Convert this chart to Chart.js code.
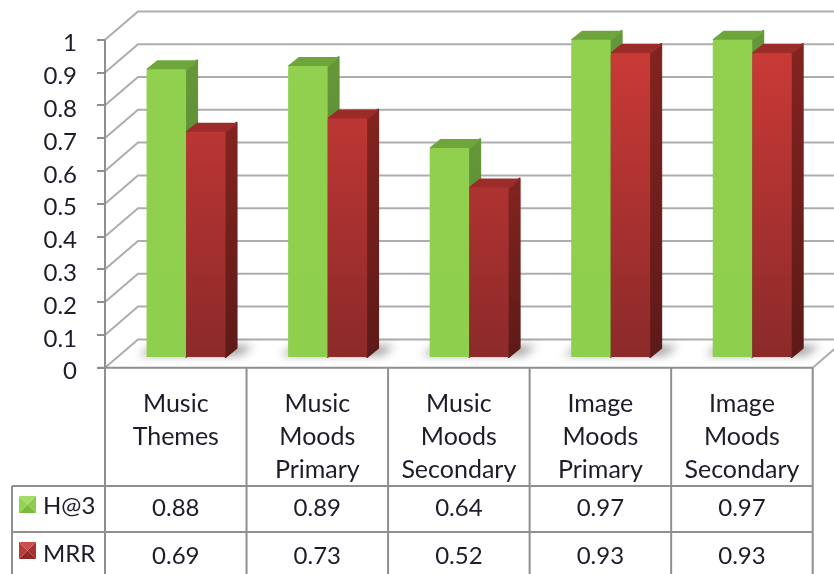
<!DOCTYPE html>
<html>
<head>
<meta charset="utf-8">
<style>
html,body{margin:0;padding:0;background:#fff;overflow:hidden}
canvas{display:block}
</style>
<script src="https://cdn.jsdelivr.net/npm/chart.js@4/dist/chart.umd.min.js"></script>
</head>
<body>
<canvas id="c" width="834" height="574"></canvas>
<script>
// Retrieval scores per task
const categories = [
  ['Music', 'Themes'],
  ['Music', 'Moods', 'Primary'],
  ['Music', 'Moods', 'Secondary'],
  ['Image', 'Moods', 'Primary'],
  ['Image', 'Moods', 'Secondary']
];
const hitsAt3 = [0.88, 0.89, 0.64, 0.97, 0.97];
const mrr = [0.69, 0.73, 0.52, 0.93, 0.93];
const yTicks = [0, 0.1, 0.2, 0.3, 0.4, 0.5, 0.6, 0.7, 0.8, 0.9, 1];

// Projection of the box: wall depth and the depth of each bar
const WALL = {dx: 33, dy: 28.3};
const BAR = {dx: 11, dy: 9, shiftX: 10.3, shiftY: 9.7};
const FONT = 'Lato, sans-serif';
const INK = '#1c1c2a';
const GRID = '#adadad';
const RULE = '#8f8f8f';

const palettes = [
  {top: '#6ea63c', side: ['#65973a', '#4f7a2c'], front: ['#92d14f', '#8fcf4e'], swatch: ['#a6dd6a', '#8ccb4c', '#7bb83f', '#94d257']},
  {top: '#9c2c29', side: ['#82231f', '#5d1a18'], front: ['#ce3b37', '#8b2a2a'], swatch: ['#c9524f', '#a83230', '#8e2725', '#b53e3b']}
];

function faceGradient(ctx, y0, y1, stops) {
  const g = ctx.createLinearGradient(0, y0, 0, y1);
  g.addColorStop(0, stops[0]);
  g.addColorStop(1, stops[1]);
  return g;
}

// Depth faces of one series, shifted back onto the floor of the box
function drawDepthFaces(ctx, meta, pal) {
  meta.data.forEach(el => {
    const l = el.x - el.width / 2, r = el.x + el.width / 2, t = el.y, b = el.base;
    ctx.lineJoin = 'round';
    ctx.lineWidth = 2;
    ctx.beginPath();
    ctx.moveTo(r, t);
    ctx.lineTo(r + BAR.dx, t - BAR.dy);
    ctx.lineTo(r + BAR.dx, b - BAR.dy);
    ctx.lineTo(r, b);
    ctx.closePath();
    const side = faceGradient(ctx, t, b, pal.side);
    ctx.fillStyle = side;
    ctx.strokeStyle = side;
    ctx.fill();
    ctx.stroke();
    ctx.beginPath();
    ctx.moveTo(l + 1, t);
    ctx.lineTo(l + BAR.dx, t - BAR.dy + 1);
    ctx.lineTo(r + BAR.dx - 1, t - BAR.dy + 1);
    ctx.lineTo(r, t);
    ctx.closePath();
    ctx.fillStyle = pal.top;
    ctx.strokeStyle = pal.top;
    ctx.fill();
    ctx.stroke();
  });
}

// Back wall, floor and left wall rules, all hung off the value axis
const wallsPlugin = {
  id: 'walls',
  beforeDatasetsDraw(chart) {
    const {ctx, chartArea: a, scales: {y}} = chart;
    ctx.save();
    ctx.lineCap = 'butt';
    ctx.strokeStyle = GRID;
    ctx.lineWidth = 2;
    yTicks.forEach(t => {
      const py = y.getPixelForValue(t);
      ctx.beginPath();
      ctx.moveTo(a.left, py);
      ctx.lineTo(a.left + WALL.dx, py - WALL.dy);
      ctx.lineTo(chart.width + 2, py - WALL.dy);
      ctx.stroke();
    });
    const by = y.getPixelForValue(0);
    ctx.beginPath();
    ctx.moveTo(a.right, by);
    ctx.lineTo(a.right + WALL.dx, by - WALL.dy);
    ctx.stroke();
    ctx.strokeStyle = RULE;
    ctx.beginPath();
    ctx.moveTo(a.left, y.getPixelForValue(1));
    ctx.lineTo(a.left, by);
    ctx.stroke();

    // Soft floor shadow around each pair of bars: the shape itself sits off
    // canvas and only its blurred shadow lands on the floor
    const g = chart.getDatasetMeta(0).data;
    const r = chart.getDatasetMeta(1).data;
    const away = 2000;
    ctx.shadowColor = 'rgba(0,0,0,0.42)';
    ctx.shadowBlur = 10;
    ctx.shadowOffsetX = away;
    ctx.fillStyle = '#000';
    g.forEach((el, i) => {
      const left = el.x - el.width / 2 + BAR.shiftX;
      const right = r[i].x + r[i].width / 2 + BAR.shiftX;
      const base = by - BAR.shiftY;
      ctx.beginPath();
      ctx.moveTo(left - away - 8, base - 3);
      ctx.lineTo(left - away + 8, base - 12);
      ctx.lineTo(right - away + 28, base - 12);
      ctx.lineTo(right - away + 14, base - 3);
      ctx.closePath();
      ctx.fill();
    });
    ctx.restore();
  },
  // H@3 paints first so the MRR front faces can cover its side faces
  beforeDatasetDraw(chart, args) {
    if (args.index === 1) return false;
    const {ctx} = chart;
    ctx.save();
    ctx.translate(BAR.shiftX, -BAR.shiftY);
    drawDepthFaces(ctx, args.meta, palettes[0]);
  },
  afterDatasetDraw(chart, args) {
    if (args.index === 1) return;
    const {ctx} = chart;
    const meta = chart.getDatasetMeta(1);
    drawDepthFaces(ctx, meta, palettes[1]);
    meta.controller.draw();
    ctx.restore();
  }
};

// Data table under the plot: grid, series keys and one value cell per category
const tablePlugin = {
  id: 'table',
  afterDraw(chart) {
    const {ctx, chartArea: a, scales: {x}} = chart;
    const rowTop = 486, rowMid = 532, tableLeft = 12, bottom = chart.height + 2;
    const step = (a.right - a.left) / categories.length;
    const rows = [
      {name: 'H@3', values: hitsAt3, swatchY: 496, textY: 506, valueY: 508, pal: palettes[0]},
      {name: 'MRR', values: mrr, swatchY: 542, textY: 554, valueY: 556, pal: palettes[1]}
    ];
    ctx.save();
    ctx.strokeStyle = RULE;
    ctx.lineWidth = 2;
    ctx.beginPath();
    ctx.moveTo(a.left - 7, a.bottom); ctx.lineTo(a.right, a.bottom);
    ctx.moveTo(tableLeft, rowTop); ctx.lineTo(a.right, rowTop);
    ctx.moveTo(tableLeft, rowMid); ctx.lineTo(a.right, rowMid);
    ctx.moveTo(tableLeft, rowTop); ctx.lineTo(tableLeft, bottom);
    for (let i = 0; i <= categories.length; i++) {
      const px = a.left + step * i;
      ctx.moveTo(px, a.bottom); ctx.lineTo(px, bottom);
    }
    ctx.stroke();

    ctx.textBaseline = 'middle';
    rows.forEach(row => {
      const s = row.swatchY, l = 19, w = 17;
      const corners = [[l, s], [l + w, s], [l + w, s + w], [l, s + w]];
      row.pal.swatch.forEach((color, k) => {
        ctx.fillStyle = color;
        ctx.beginPath();
        ctx.moveTo(l + w / 2, s + w / 2);
        ctx.lineTo(corners[k][0], corners[k][1]);
        ctx.lineTo(corners[(k + 1) % 4][0], corners[(k + 1) % 4][1]);
        ctx.closePath();
        ctx.fill();
      });
      ctx.fillStyle = INK;
      ctx.textAlign = 'left';
      ctx.font = '24px ' + FONT;
      ctx.fillText(row.name, 43, row.textY);
      ctx.textAlign = 'center';
      row.values.forEach((v, i) => {
        ctx.fillText(v.toFixed(2), x.getPixelForValue(i), row.valueY);
      });
    });
    ctx.restore();
  }
};

const frontCorners = {topLeft: 3, topRight: 1, bottomLeft: 0, bottomRight: 0};

new Chart(document.getElementById('c'), {
  type: 'bar',
  data: {
    labels: categories,
    datasets: [
      {
        label: 'H@3', data: hitsAt3, clip: false, borderRadius: frontCorners, borderSkipped: false,
        backgroundColor: c => {
          const a = c.chart.chartArea;
          return a ? faceGradient(c.chart.ctx, a.top, a.bottom, palettes[0].front) : palettes[0].front[0];
        }
      },
      {
        label: 'MRR', data: mrr, clip: false, borderRadius: frontCorners, borderSkipped: false,
        backgroundColor: c => {
          const a = c.chart.chartArea;
          return a ? faceGradient(c.chart.ctx, a.top, a.bottom, palettes[1].front) : palettes[1].front[0];
        }
      }
    ]
  },
  options: {
    responsive: false,
    animation: false,
    events: [],
    layout: {padding: {top: 39.7, right: 21.3, left: 0, bottom: 0}},
    plugins: {legend: {display: false}, tooltip: {enabled: false}, title: {display: false}},
    datasets: {bar: {categoryPercentage: 0.558, barPercentage: 1}},
    scales: {
      x: {
        afterFit(s) { s.height = 206.3; },
        grid: {display: false},
        border: {display: false},
        ticks: {
          maxRotation: 0, autoSkip: false, padding: 12, color: INK,
          font: {family: FONT, size: 25, lineHeight: 33 / 25}
        }
      },
      y: {
        min: 0, max: 1,
        afterFit(s) { s.width = 105; },
        afterBuildTicks(s) { s.ticks = yTicks.map(value => ({value})); },
        border: {display: false},
        grid: {drawOnChartArea: false, tickLength: 8, color: RULE, lineWidth: 2},
        ticks: {
          padding: 20, color: INK,
          // The leading empty line drops each label a little below its tick
          font: {family: FONT, size: 24, lineHeight: 8 / 24},
          callback: v => ['', String(v)]
        }
      }
    }
  },
  plugins: [wallsPlugin, tablePlugin]
});
</script>
</body>
</html>
